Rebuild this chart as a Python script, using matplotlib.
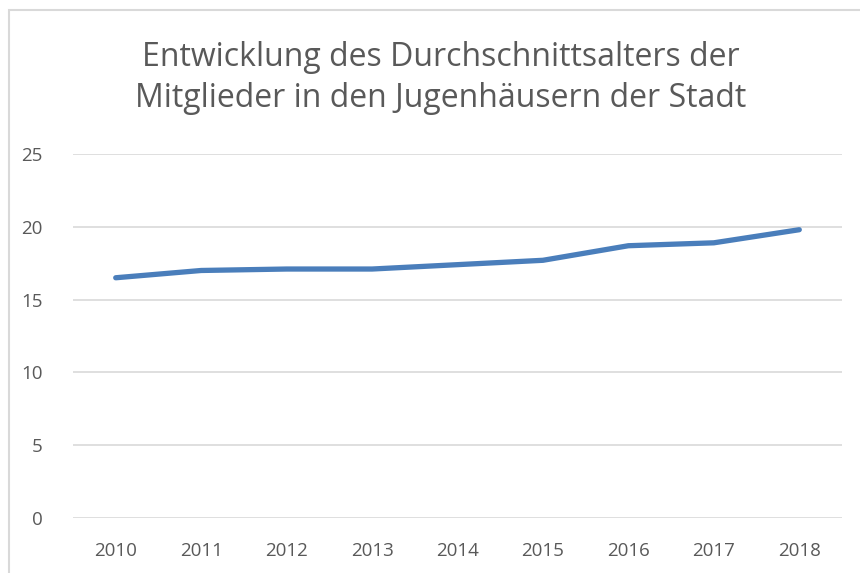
import numpy as np
import matplotlib.pyplot as plt
from matplotlib.patches import Rectangle

# Chart data
years = ["2010", "2011", "2012", "2013", "2014", "2015", "2016", "2017", "2018"]
avg_age = [16.5, 17.0, 17.1, 17.1, 17.4, 17.7, 18.7, 18.9, 19.8]
y_ticks = [0, 5, 10, 15, 20, 25]

title = "Entwicklung des Durchschnittsalters der\nMitglieder in den Jugenhäusern der Stadt"

plt.rcParams['font.family'] = ['Open Sans', 'DejaVu Sans']
text_grey = "#595959"

fig = plt.figure(figsize=(8.6, 5.73), dpi=100)

# light grey chart border (cropped at right and bottom like the original)
fig.patches.append(Rectangle((9 / 860, -0.05), 1.1, (573 - 10) / 573 + 0.05,
                             transform=fig.transFigure, fill=False,
                             edgecolor="#d9d9d9", linewidth=1.5))

ax = fig.add_axes([73 / 860, (573 - 518) / 573, (842 - 73) / 860, (518 - 154) / 573])
x = np.arange(len(years))
ax.plot(x, avg_age, color="#4a7ebb", linewidth=3.8, solid_capstyle="round",
        solid_joinstyle="round", zorder=3)

ax.set_xlim(-0.5, len(years) - 0.5)
ax.set_ylim(0, 25)
ax.set_yticks(y_ticks)
ax.set_xticks(x)
ax.set_xticklabels(years)
ax.grid(axis="y", color="#d9d9d9", linewidth=1.2)
ax.set_axisbelow(True)
for s in ax.spines.values():
    s.set_visible(False)
ax.tick_params(length=0, colors=text_grey, labelsize=13.5)
ax.tick_params(axis="y", pad=22)
ax.tick_params(axis="x", pad=17)

fig.text(0.512, (573 - 78) / 573, title, ha="center", va="center",
         fontsize=23, color=text_grey, linespacing=1.32)

fig.savefig("out.png", dpi=100)
